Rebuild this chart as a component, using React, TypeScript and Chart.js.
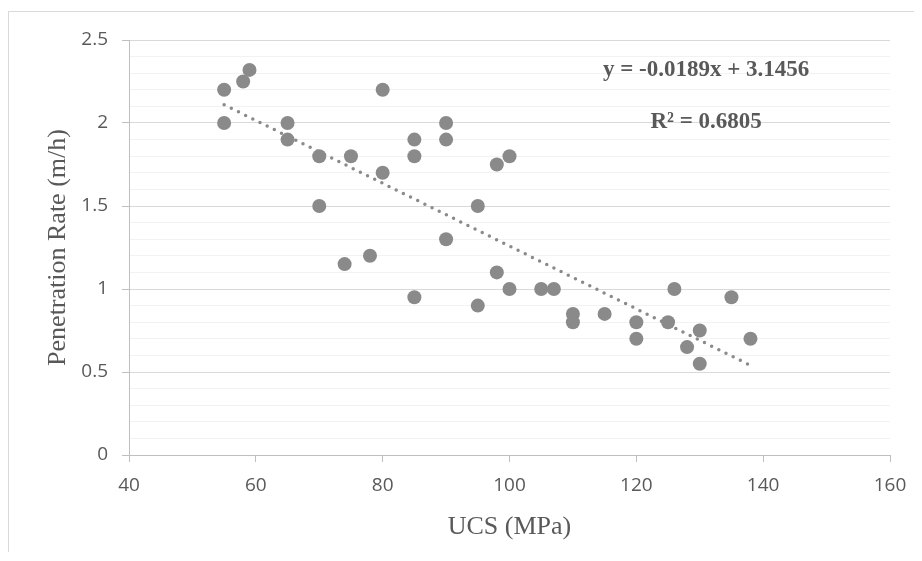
import React, { useEffect, useRef } from "react";
import { Chart, registerables } from "chart.js";

Chart.register(...registerables);

// ---- data ----
const ucs = [55, 55, 58, 59, 65, 65, 70, 70, 74, 75, 78, 80, 80, 85, 85, 85, 90, 90, 90, 95, 95, 98, 98, 100, 100, 105, 107, 110, 110, 115, 120, 120, 125, 126, 128, 130, 130, 135, 138];
const rate = [2.2, 2.0, 2.25, 2.32, 2.0, 1.9, 1.8, 1.5, 1.15, 1.8, 1.2, 2.2, 1.7, 1.9, 1.8, 0.95, 2.0, 1.9, 1.3, 1.5, 0.9, 1.75, 1.1, 1.8, 1.0, 1.0, 1.0, 0.85, 0.8, 0.85, 0.8, 0.7, 0.8, 1.0, 0.65, 0.75, 0.55, 0.95, 0.7];
const trendX = [55, 138];
const trendY = [2.11, 0.54];
const xTicks = [40, 60, 80, 100, 120, 140, 160];
const yTicks = [0, 0.5, 1, 1.5, 2, 2.5];
const yMinorStep = 0.1;
const equationText = "y = -0.0189x + 3.1456";
const r2Text = "R² = 0.6805";
const xTitle = "UCS (MPa)";
const yTitle = "Penetration Rate (m/h)";

const W = 912;
const H = 540;
const AREA = { left: 120, right: 881, top: 28, bottom: 443 };
const TEXT = "#595959";
const MARK = "#8a8a8a";

const isMajor = (v: number) => yTicks.some((t) => Math.abs(t - v) < 1e-6);

const equationPlugin = {
  id: "equationLabel",
  afterDatasetsDraw(chart: any) {
    const { ctx, scales } = chart;
    const x = scales.x;
    const y = scales.y;
    ctx.save();
    ctx.font = 'bold 23px "Liberation Serif", "Times New Roman", serif';
    ctx.fillStyle = TEXT;
    ctx.textAlign = "center";
    ctx.textBaseline = "middle";
    ctx.fillText(equationText, x.getPixelForValue(131), y.getPixelForValue(2.32));
    ctx.fillText(r2Text, x.getPixelForValue(131), y.getPixelForValue(2.005));
    ctx.restore();
  },
};

export default function App() {
  const ref = useRef<HTMLCanvasElement>(null);

  useEffect(() => {
    if (!ref.current) return;
    const chart = new Chart(ref.current, {
      type: "scatter",
      data: {
        datasets: [
          {
            type: "line",
            data: trendX.map((x, i) => ({ x, y: trendY[i] })),
            borderColor: MARK,
            borderWidth: 3.5,
            borderDash: [0, 8],
            borderCapStyle: "round",
            pointRadius: 0,
            fill: false,
            order: 0,
          } as any,
          {
            data: ucs.map((x, i) => ({ x, y: rate[i] })),
            backgroundColor: MARK,
            borderColor: MARK,
            borderWidth: 0,
            pointRadius: 7,
            pointHoverRadius: 7,
            order: 1,
          },
        ],
      },
      options: {
        animation: false,
        responsive: false,
        maintainAspectRatio: false,
        events: [],
        layout: { padding: { left: 0, top: AREA.top, right: W - AREA.right, bottom: 0 } },
        plugins: { legend: { display: false }, tooltip: { enabled: false } },
        scales: {
          x: {
            type: "linear",
            min: xTicks[0],
            max: xTicks[xTicks.length - 1],
            afterBuildTicks: (s: any) => {
              s.ticks = xTicks.map((v) => ({ value: v }));
            },
            ticks: {
              autoSkip: false,
              maxRotation: 0,
              color: TEXT,
              padding: 12,
              font: { family: '"Open Sans", sans-serif', size: 19 },
              callback: (v: any) => String(v),
            },
            grid: { drawOnChartArea: false, drawTicks: true, tickLength: 7, tickColor: "#bfbfbf", tickWidth: 1 },
            border: { color: "#bfbfbf", width: 1 },
            title: {
              display: true,
              text: xTitle,
              color: TEXT,
              font: { family: '"Liberation Serif", "Times New Roman", serif', size: 26, weight: "normal" },
              padding: { top: 0, bottom: 9 },
            },
            afterFit: (s: any) => {
              s.height = H - AREA.bottom;
            },
          },
          y: {
            type: "linear",
            min: yTicks[0],
            max: yTicks[yTicks.length - 1],
            ticks: {
              stepSize: yMinorStep,
              autoSkip: false,
              color: TEXT,
              padding: 14,
              font: { family: '"Open Sans", sans-serif', size: 19 },
              callback: (v: any) => (isMajor(Number(v)) ? String(Number(Number(v).toFixed(1))) : ""),
            },
            grid: {
              color: (c: any) => (isMajor(c.tick.value) ? "#d9d9d9" : "#f2f2f2"),
              lineWidth: 1,
              drawTicks: true,
              tickLength: 7,
              tickColor: (c: any) => (isMajor(c.tick.value) ? "#bfbfbf" : "rgba(0,0,0,0)"),
            },
            border: { color: "#bfbfbf", width: 1 },
            title: {
              display: true,
              text: yTitle,
              color: TEXT,
              font: { family: '"Liberation Serif", "Times New Roman", serif', size: 26, weight: "normal" },
              padding: { top: 34, bottom: 0 },
            },
            afterFit: (s: any) => {
              s.width = AREA.left;
            },
          },
        },
      },
      plugins: [equationPlugin],
    } as any);
    return () => chart.destroy();
  }, []);

  return (
    <div style={{ paddingTop: 3 }}>
      <div
        style={{
          borderTop: "1px solid #d9d9d9",
          borderLeft: "1px solid #d9d9d9",
          width: W,
          height: H,
        }}
      >
        <canvas ref={ref} width={W} height={H} style={{ display: "block", width: W, height: H }} />
      </div>
    </div>
  );
}
